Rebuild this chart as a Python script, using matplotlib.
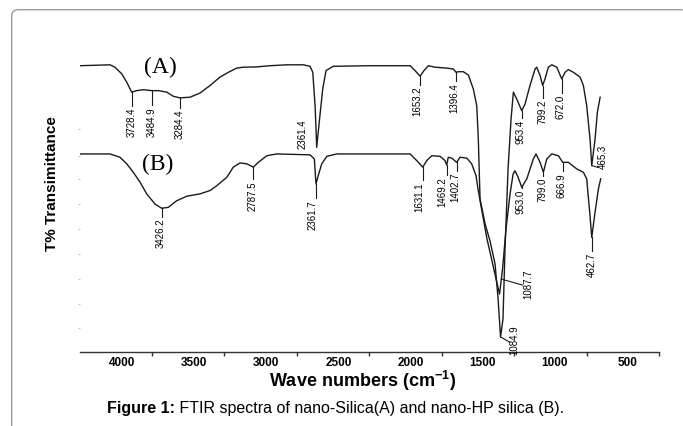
import numpy as np
import matplotlib
matplotlib.use("Agg")
import matplotlib.pyplot as plt
from matplotlib.lines import Line2D

plt.rcParams['font.family'] = ['Liberation Sans', 'DejaVu Sans']
plt.rcParams['mathtext.fontset'] = 'custom'
plt.rcParams['mathtext.rm'] = 'Liberation Sans'
plt.rcParams['mathtext.bf'] = 'Liberation Sans:bold'

# ---------------- data (wavenumber axis units, T% arbitrary) ----------------
wn_a = [4290, 4083, 4049, 4002, 3967, 3933, 3898, 3852, 3794, 3748, 3690, 3644,
        3598, 3529, 3459, 3390, 3321, 3263, 3205, 3159, 3066, 2974, 2859, 2744,
        2697, 2678, 2662, 2651, 2633, 2609, 2586, 2536, 2281, 2004, 1970, 1935,
        1907, 1877, 1831, 1750, 1704, 1685, 1669, 1635, 1600, 1566, 1542, 1531,
        1519, 1484, 1450, 1415, 1394, 1377, 1360, 1346, 1325, 1304, 1288, 1265,
        1230, 1207, 1173, 1138, 1126, 1103, 1085, 1069, 1046, 1022, 987, 953,
        930, 907, 872, 826, 803, 780, 757, 745, 722, 706, 687]
t_a = [95.4, 95.7, 94.9, 92.7, 89.9, 86.6, 87.1, 87.4, 87.1, 87.1, 86.6, 85.2,
       84.7, 84.9, 86.3, 88.8, 91.6, 93.2, 94.6, 94.9, 95.0, 95.4, 95.7, 95.7,
       95.2, 93.2, 82.1, 68.2, 76.7, 87.7, 93.8, 95.2, 95.4, 95.4, 93.8, 91.9,
       93.8, 95.4, 94.9, 94.6, 94.3, 93.2, 93.4, 93.4, 92.3, 87.7, 82.1, 71.0,
       51.0, 42.7, 37.0, 29.3, 17.7, 5.0, 11.0, 34.3, 61.0, 77.7, 86.6, 84.3,
       80.4, 82.7, 88.8, 94.3, 94.9, 92.1, 88.8, 91.0, 94.9, 95.7, 94.9, 91.0,
       93.2, 94.1, 93.2, 91.6, 88.8, 82.1, 71.0, 62.1, 71.0, 79.9, 84.9]

wn_b = [4290, 4083, 4014, 3967, 3922, 3875, 3829, 3771, 3725, 3679, 3621, 3552,
        3459, 3390, 3344, 3274, 3229, 3182, 3136, 3090, 3055, 2997, 2928, 2697,
        2667, 2656, 2640, 2616, 2581, 2512, 2281, 2004, 1958, 1916, 1888, 1854,
        1796, 1762, 1750, 1739, 1715, 1681, 1658, 1611, 1577, 1547, 1533, 1505,
        1471, 1436, 1408, 1384, 1363, 1339, 1311, 1290, 1277, 1256, 1230, 1195,
        1150, 1131, 1103, 1080, 1057, 1022, 976, 946, 907, 849, 803, 780, 757,
        745, 722, 699, 683]
t_b = [66.0, 66.0, 64.9, 62.7, 59.9, 56.6, 52.7, 49.3, 47.9, 48.2, 50.4, 51.9,
       52.7, 53.8, 55.4, 58.2, 61.6, 63.0, 62.7, 61.6, 63.2, 65.4, 66.0, 65.7,
       64.3, 56.0, 58.8, 62.7, 65.2, 66.0, 66.0, 66.0, 63.8, 61.6, 63.8, 65.4,
       65.2, 63.8, 62.3, 64.9, 64.6, 63.2, 64.9, 64.6, 62.7, 58.8, 54.3, 46.7,
       37.7, 30.3, 24.3, 19.3, 27.7, 41.0, 52.7, 59.3, 60.4, 58.3, 54.9, 57.7,
       64.3, 66.0, 63.2, 59.9, 64.3, 66.0, 65.4, 63.2, 63.2, 61.0, 59.9, 57.7,
       45.4, 38.2, 46.6, 54.3, 57.7]

x_ticks = [4000, 3500, 3000, 2500, 2000, 1500, 1000, 500]
x_tick_labels = ["4000", "3500", "3000", "2500", "2000", "1500", "1000", "500"]
x_minor = [3790, 3290, 2790, 2290, 1785, 1285, 780, 280]
y_dots = [74.3, 65.3, 57.7, 49.3, 41.0, 32.7, 24.3, 16.0, 8.0]

# (label, peak wavenumber or None, text x, text top)
peaks_a = [("3728.4", 3933, 3933, 81.7), ("3484.9", 3794, 3794, 82.0),
           ("3284.4", 3598, 3598, 81.0), ("2361.4", None, 2751, 77.7),
           ("1653.2", 1935, 1952, 88.7), ("1396.4", 1685, 1699, 90.0),
           ("953.4", 1230, 1242, 77.7), ("799.2", 1085, 1088, 84.3),
           ("672.0", 953, 960, 86.0), ("465.3", None, 669, 69.3),
           ("1084.9", None, 1283, 9.3)]
peaks_b = [("3426.2", 3725, 3732, 44.7), ("2787.5", 3090, 3095, 57.3),
           ("2361.7", 2656, 2679, 51.0), ("1631.1", 1916, 1940, 57.0),
           ("1469.2", 1750, 1778, 58.7), ("1402.7", 1681, 1689, 60.0),
           ("953.0", 1230, 1242, 54.3), ("799.0", 1080, 1085, 58.3),
           ("666.9", 946, 953, 60.0), ("462.7", 745, 745, 33.3),
           ("1087.7", None, 1186, 27.7)]
leaders = [(1372, 24.3, 1225, 22.3), (1377, 5.0, 1314, 3.3), (745, 62.1, 700, 61.5)]

# ---------------- figure ----------------
W, H = 683, 427
fig = plt.figure(figsize=(W / 100, H / 100), dpi=100)

# outer frame with rounded corner
r = 6
ang = np.linspace(np.pi / 2, np.pi, 12)
cx, cy = 11.7 + r, 10.7 + r
fx = np.concatenate([[682], cx + r * np.cos(ang), [11.7]])
fy = np.concatenate([[10.7], cy - r * np.sin(ang), [427]])
fig.add_artist(Line2D(fx / W, 1 - fy / H, color='#9a9a9a', lw=1.0,
                      transform=fig.transFigure))

ax = fig.add_axes([80 / W, 1 - 353 / H, (659 - 80) / W, (353 - 40) / H])
ax.set_xlim(4291, 279)
ax.set_ylim(0, 104.3)

col = '#1a1a1a'
ax.plot(wn_a, t_a, color=col, lw=1.0)
ax.plot(wn_b, t_b, color=col, lw=1.0)

def annotate(wn, t, peaks):
    wr, tr = np.array(wn)[::-1], np.array(t)[::-1]
    for lab, pw, tx, ttop in peaks:
        if pw is not None:
            ty = np.interp(pw, wr, tr)
            ax.plot([pw, pw], [ty, ttop + 0.4], color=col, lw=0.8)
        ax.text(tx, ttop, lab, rotation=90, ha='center', va='top',
                fontsize=7, color='black', clip_on=False)

annotate(wn_a, t_a, peaks_a)
annotate(wn_b, t_b, peaks_b)
for x1, y1, x2, y2 in leaders:
    ax.plot([x1, x2], [y1, y2], color=col, lw=0.8)

ax.text(3737, 95.0, "(A)", family='Liberation Serif', fontsize=17,
        ha='center', va='center')
ax.text(3751, 62.7, "(B)", family='Liberation Serif', fontsize=17,
        ha='center', va='center')

for s in ['left', 'top', 'right']:
    ax.spines[s].set_visible(False)
ax.spines['bottom'].set_color('#333333')
ax.spines['bottom'].set_linewidth(1.0)

ax.set_xticks(x_ticks)
ax.set_xticklabels(x_tick_labels, fontsize=8.5, fontweight='bold')
ax.tick_params(axis='x', which='major', length=0, pad=3.0)
ax.set_xticks(x_minor, minor=True)
ax.tick_params(axis='x', which='minor', length=3, width=1.0, color='#333333',
               direction='out')
ax.set_yticks(y_dots)
ax.set_yticklabels([])
ax.tick_params(axis='y', length=1.5, width=0.8, color='#c8c8c8', direction='out')

fig.text(363 / W, 1 - 387 / H, r'Wave numbers (cm$^{\mathbf{-1}}$)',
         fontsize=13, fontweight='bold', ha='center', va='baseline')
fig.text(52 / W, 1 - 184 / H, 'T% Transimittance', fontsize=11,
         fontweight='bold', rotation=90, ha='center', va='center')

# caption
renderer = fig.canvas.get_renderer()
t1 = fig.text(107 / W, 1 - 413 / H, 'Figure 1:', fontsize=11.5,
              fontweight='bold', ha='left', va='baseline')
bb = t1.get_window_extent(renderer)
fig.text(bb.x1 / W, 1 - 413 / H,
         ' FTIR spectra of nano-Silica(A) and nano-HP silica (B).',
         fontsize=11.5, ha='left', va='baseline')

fig.savefig('out.png', dpi=100)
